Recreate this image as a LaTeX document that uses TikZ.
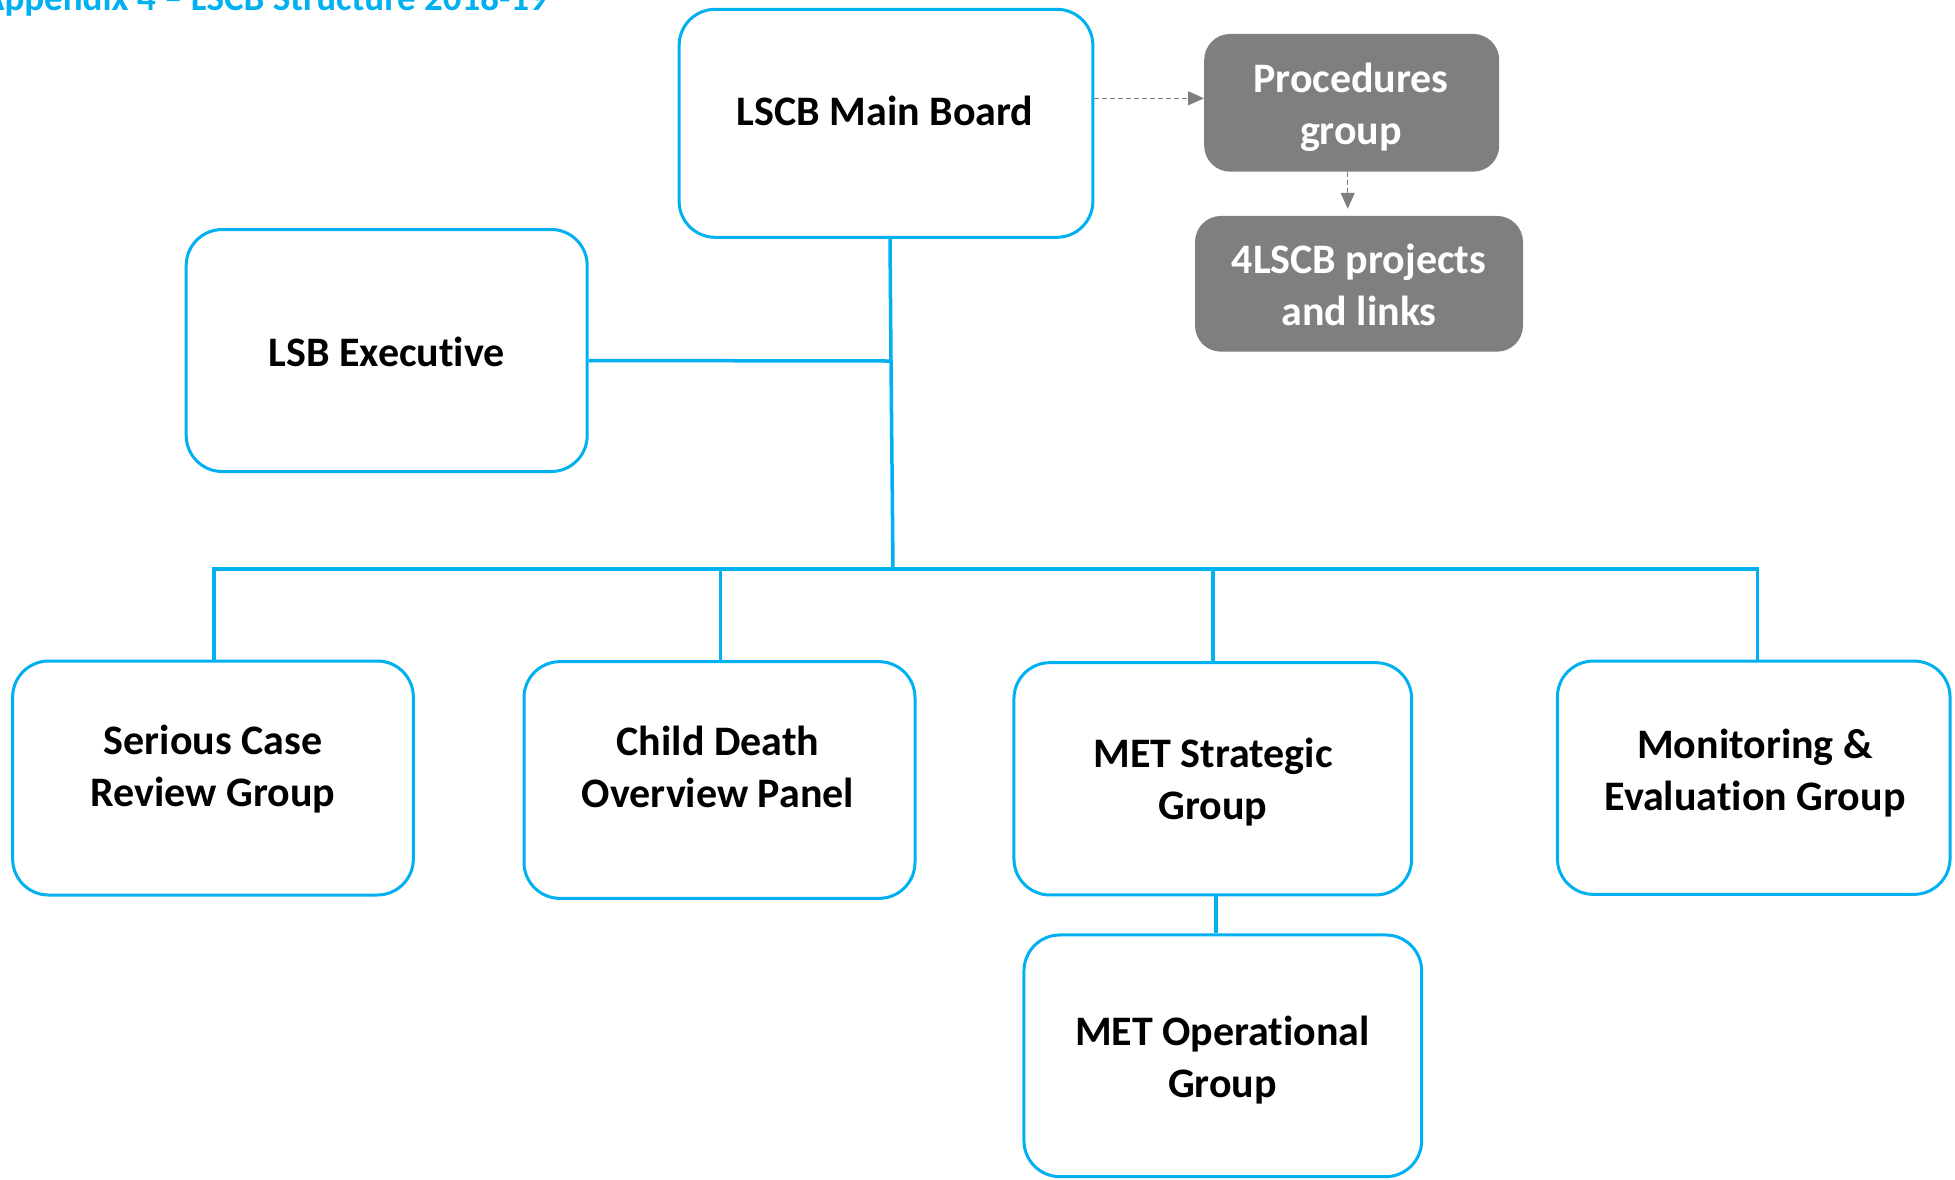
\documentclass[tikz,border=0pt]{standalone}
\usepackage{fontspec}
\setmainfont{Carlito}[Ligatures=NoCommon]
\usetikzlibrary{arrows.meta}
\definecolor{lscbblue}{HTML}{00B0F0}
\definecolor{lscbgrey}{HTML}{7F7F7F}
\tikzset{
  grp/.style={draw=lscbblue, line width=3pt, rounded corners=36pt},
  subgrp/.style={fill=lscbgrey, rounded corners=26pt},
  grptext/.style={font=\bfseries\fontsize{42}{52}\selectfont, align=center, anchor=base, inner sep=0pt},
  subtext/.style={font=\bfseries\fontsize{42}{52}\selectfont, text=white, align=center, anchor=base, inner sep=0pt},
  tree/.style={draw=lscbblue, line width=3.5pt},
  dotlink/.style={draw=lscbgrey, line width=1.3pt, dash pattern=on 5pt off 3pt, -{Triangle[length=16pt, width=14pt]}},
}
\newcommand{\groupbox}[4] {\node at (#1) (#2) [grp, minimum width=#3, minimum height=#4] {};}
\newcommand{\subbox}[4] {\node at (#1) (#2) [subgrp, minimum width=#3, minimum height=#4] {};}

\begin{document}
\begin{tikzpicture}[x=1pt, y=-1pt]
\useasboundingbox (0,0) rectangle (1955,1179);

\node [font=\bfseries\fontsize{37}{44}\selectfont, text=lscbblue, anchor=base east, inner sep=0pt] (title) at (548,10) {Appendix 4 -- LSCB Structure 2018-19};

\groupbox {886,123.3} {main} {413.7} {228};
\groupbox {386.7,350.5} {exec} {401} {242};
\groupbox {213,778} {scr} {400.7} {234};
\groupbox {719.5,780} {cdop} {391} {236.7};
\groupbox {1212.8,778.8} {mets} {397.7} {232.3};
\groupbox {1753.7,777.7} {meg} {392.7} {233.3};
\groupbox {1222.8,1055.8} {meto} {397.7} {241.7};
\subbox {1351.7,102.8} {proc} {295} {137.7};
\subbox {1359,283.8} {links} {328} {135.7};

% text sits on the baseline of its last line
\node at (885,125) (maint) [grptext] {LSCB Main Board};
\node at (386.7,366) (exect) [grptext] {LSB Executive};
\node at (213,806) (scrt) [grptext] {Serious Case\\Review Group};
\node at (718,807) (cdopt) [grptext] {Child Death\\Overview Panel};
\node at (1213,819) (metst) [grptext] {MET Strategic\\Group};
\node at (1755,810) (megt) [grptext] {Monitoring \&\\Evaluation Group};
\node at (1222.5,1097) (metot) [grptext] {MET Operational\\Group};
\node at (1351,144) (proct) [subtext] {Procedures\\group};
\node at (1359,325) (linkst) [subtext] {4LSCB projects\\and links};

% tree lines
\coordinate (hub) at (891,361);
\coordinate (bus) at (893,569);
\draw [tree] ([xshift=4]main.south) -- (hub) -- (bus);
\draw [tree] ([yshift=-10]exec.east) -- (hub);
\draw [tree] ([xshift=1]scr.north) -- ([xshift=1]scr.north |- bus) -- ([xshift=4]meg.north |- bus) -- ([xshift=4]meg.north);
\draw [tree] ([xshift=1]cdop.north) -- ([xshift=1]cdop.north |- bus);
\draw [tree] (mets.north) -- (mets.north |- bus);
\draw [tree] ([xshift=3]mets.south) -- ([xshift=3]mets.south |- meto.north);

% dashed links
\draw [dotlink] ([yshift=25]main.east) -- ([yshift=25]main.east -| proc.west) ;
\draw [dotlink, shorten >=7pt] ([xshift=-4]proc.south) -- ([xshift=-4]proc.south |- links.north);
\end{tikzpicture}
\end{document}
